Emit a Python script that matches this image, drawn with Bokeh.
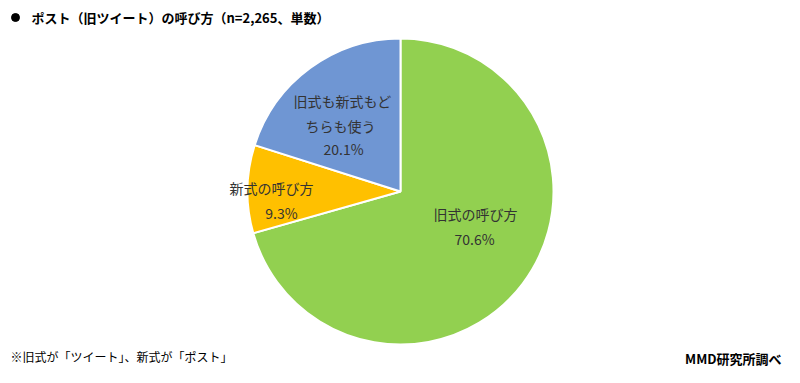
import math
from bokeh.plotting import figure
from bokeh.models import Range1d, ColumnDataSource
from bokeh.core.properties import value
from bokeh.embed import file_html
from bokeh.resources import INLINE

categories = ["旧式の呼び方", "新式の呼び方", "旧式も新式もどちらも使う"]
shares = [70.6, 9.3, 20.1]
colors = ["#92D050", "#FFC000", "#6F96D3"]
label_lines = [["旧式の呼び方", "70.6%"], ["新式の呼び方", "9.3%"], ["旧式も新式もど", "ちらも使う", "20.1%"]]
title_text = "ポスト（旧ツイート）の呼び方（n=2,265、単数）"
note_text = "※旧式が「ツイート」、新式が「ポスト」"
source_text = "MMD研究所調べ"

H = 383
FONT = "Noto Sans CJK JP"

p = figure(width=784, height=367, output_backend="svg", toolbar_location=None,
           x_range=Range1d(0, 784), y_range=Range1d(H - 367, H), min_border=0)
p.axis.visible = False
p.grid.visible = False
p.outline_line_color = None
p.background_fill_color = "white"

cx, cy, r = 400, H - 191, 153
total = sum(shares)
starts, ends = [], []
a = math.pi / 2
for s in shares:
    starts.append(a)
    a -= s / total * 2 * math.pi
    ends.append(a)

src = ColumnDataSource(dict(start=starts, end=ends, color=colors, cat=categories))
p.wedge(x=cx, y=cy, radius=r, start_angle="start", end_angle="end", direction="clock",
        fill_color="color", line_color="white", line_width=2, source=src)

# label positions (reference pixel coordinates of line centres)
label_pos = [[(475, 213), (474, 238)], [(271, 187), (281, 212)], [(342, 100), (340, 125), (343, 148)]]
for lines, poss in zip(label_lines, label_pos):
    xs = [q[0] for q in poss]
    ys = [H - q[1] for q in poss]
    p.text(x=xs, y=ys, text=lines, text_align="center", text_baseline="middle",
           text_font=value(FONT), text_font_size="14px", text_color="#333333")

p.scatter(x=[15], y=[H - 17], size=8, marker="circle", fill_color="black", line_color="black")
p.text(x=[31], y=[H - 17], text=[title_text], text_align="left", text_baseline="middle",
       text_font=value(FONT), text_font_size="13px", text_font_style="bold", text_color="#000000")
p.text(x=[10], y=[H - 356], text=[note_text], text_align="left", text_baseline="middle",
       text_font=value(FONT), text_font_size="12px", text_color="#000000")
p.text(x=[781], y=[H - 358], text=[source_text], text_align="right", text_baseline="middle",
       text_font=value(FONT), text_font_size="13px", text_font_style="bold", text_color="#000000")

open("out.html", "w").write(file_html(p, INLINE))
